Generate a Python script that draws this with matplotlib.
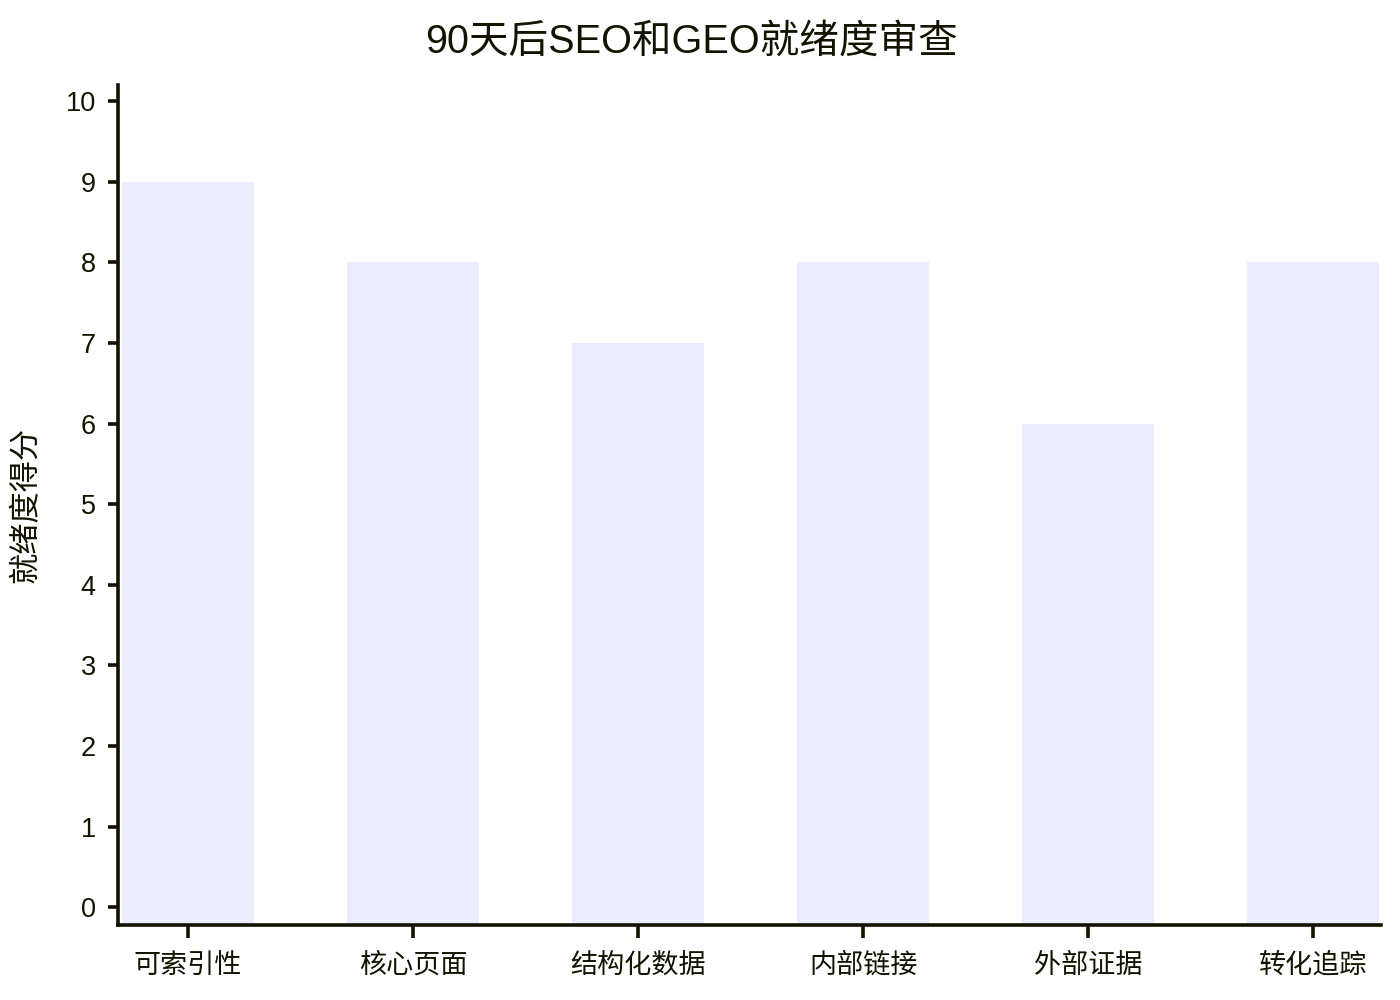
import matplotlib
matplotlib.use('Agg')
import matplotlib.pyplot as plt

## data
categories = ['可索引性', '核心页面', '结构化数据', '内部链接', '外部证据', '转化追踪']
scores = [9, 8, 7, 8, 6, 8]
yticks = list(range(0, 11))

title = '90天后SEO和GEO就绪度审查'
ylabel = '就绪度得分'

ink = '#131300'
bar_color = '#ececff'
y_bottom = -0.22

plt.rcParams['font.family'] = ['Liberation Sans', 'Noto Sans CJK SC', 'DejaVu Sans']

fig = plt.figure(figsize=(14, 10), dpi=100)
ax = fig.add_axes([0.0843, 0.075, 0.9021, 0.84])

x = range(len(categories))
ax.bar(x, [s - y_bottom for s in scores], bottom=y_bottom, width=0.587,
       color=bar_color, edgecolor='none')

ax.set_xlim(-0.31, len(categories) - 0.7)
ax.set_ylim(y_bottom, 10.2)
ax.set_yticks(yticks)
ax.set_xticks(list(x))
ax.set_xticklabels(categories)

for side in ['top', 'right']:
    ax.spines[side].set_visible(False)
for side in ['left', 'bottom']:
    ax.spines[side].set_color(ink)
    ax.spines[side].set_linewidth(2.6)

ax.tick_params(axis='y', direction='out', length=7, width=2.6, color=ink,
               labelcolor=ink, labelsize=19.5, pad=9)
ax.tick_params(axis='x', direction='out', length=9, width=2.6, color=ink,
               labelcolor=ink, labelsize=19.5, pad=11)

ax.set_ylabel(ylabel, fontsize=22.5, color=ink, labelpad=17)
fig.text(0.494, 0.958, title, ha='center', va='center', fontsize=28.5, color=ink)

fig.savefig('out.png', dpi=100)
